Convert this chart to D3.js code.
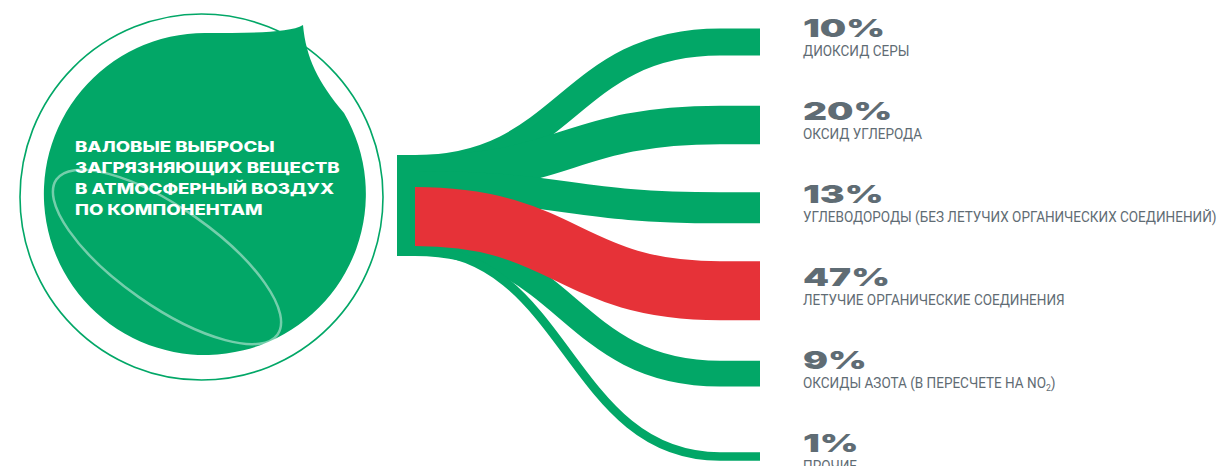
<!DOCTYPE html>
<html><head><meta charset="utf-8">
<script src="https://cdn.jsdelivr.net/npm/d3@7"></script>
<style>body{margin:0;background:#fff} svg{display:block}</style>
</head><body>
<svg id="chart" width="1222" height="466"></svg>
<script>
// ---- data ----
const categories = [
  "ДИОКСИД СЕРЫ",
  "ОКСИД УГЛЕРОДА",
  "УГЛЕВОДОРОДЫ (БЕЗ ЛЕТУЧИХ ОРГАНИЧЕСКИХ СОЕДИНЕНИЙ)",
  "ЛЕТУЧИЕ ОРГАНИЧЕСКИЕ СОЕДИНЕНИЯ",
  "ОКСИДЫ АЗОТА (В ПЕРЕСЧЕТЕ НА NO₂)",
  "ПРОЧИЕ"
];
const values = [10, 20, 13, 47, 9, 1];
const highlighted = ["ЛЕТУЧИЕ ОРГАНИЧЕСКИЕ СОЕДИНЕНИЯ"];
const titleLines = ["ВАЛОВЫЕ ВЫБРОСЫ", "ЗАГРЯЗНЯЮЩИХ ВЕЩЕСТВ", "В АТМОСФЕРНЫЙ ВОЗДУХ", "ПО КОМПОНЕНТАМ"];

// ---- styles ----
const GREEN = "#02a767", RED = "#e63238", GRAY = "#5f6c74";

const svg = d3.select("#chart");

// ---- left bubble ----
const g0 = svg.append("g");
g0.append("ellipse").attr("cx", 201.5).attr("cy", 197).attr("rx", 181.5).attr("ry", 183)
  .attr("fill", "none").attr("stroke", GREEN).attr("stroke-width", 1.6);
g0.append("path")
  .attr("d", "M303,25 C290,33 250,33 205,33 A161 161 0 1 0 344,113 C318,82 306,58 303,25 Z")
  .attr("fill", GREEN);
g0.append("ellipse").attr("cx", 0).attr("cy", 0).attr("rx", 135).attr("ry", 49)
  .attr("transform", "translate(167,257) rotate(35)")
  .attr("fill", "none").attr("stroke", "rgba(255,255,255,0.45)").attr("stroke-width", 2.5);

const title = g0.append("g").attr("transform", "translate(75,0)");
const tLines = title.selectAll("text").data(titleLines).join("text")
  .attr("y", (d, i) => 152 + i * 21)
  .attr("font-family", "Inter, 'DejaVu Sans', sans-serif")
  .attr("font-weight", 800).attr("font-size", 14.5)
  .attr("fill", "#fff").text(d => d);
const tMax = d3.max(tLines.nodes(), n => n.getComputedTextLength());
tLines.attr("transform", `scale(${265 / tMax},1)`);

// ---- flows ----
const x0 = 415, xc = 720, x1 = 760, barX = 397, barTop = 155, barBot = 256;
const W = d3.scaleSqrt().domain([0, d3.max(values)]).range([0, 59]);
const yEnd = d3.scalePoint().domain(categories).range([42, 456.5]);
const ySrc = d3.scaleLinear().domain([0, 100]).range([150, 250]);

let cum = 0;
const flows = categories.map((c, i) => {
  const v = values[i], w = W(v), mid = cum + v / 2;
  cum += v;
  const ys = Math.max(barTop + w / 2, Math.min(barBot - w / 2, ySrc(mid)));
  return { c, v, w, ys, yt: yEnd(c), hi: highlighted.includes(c) };
});

const link = d => {
  const xm = (x0 + xc) / 2, p = d3.path();
  p.moveTo(x0, d.ys);
  p.bezierCurveTo(xm, d.ys, xm, d.yt, xc, d.yt);
  p.lineTo(x1, d.yt);
  return p.toString();
};

svg.append("rect").attr("x", barX).attr("y", barTop).attr("width", x0 - barX)
  .attr("height", barBot - barTop).attr("fill", GREEN);

const ordered = flows.filter(d => !d.hi).concat(flows.filter(d => d.hi));
svg.append("g").selectAll("path").data(ordered).join("path")
  .attr("d", link).attr("fill", "none")
  .attr("stroke", d => d.hi ? RED : GREEN)
  .attr("stroke-width", d => d.w).attr("stroke-linecap", "butt");

// ---- labels ----
const lab = svg.append("g");
const pct = lab.selectAll("text.pct").data(flows).join("text").attr("class", "pct")
  .attr("font-family", "Inter, 'DejaVu Sans', sans-serif")
  .attr("font-weight", 900).attr("font-size", 25).attr("fill", GRAY)
  .text(d => d.v + "%");
const maxNode = pct.filter(d => d.v === d3.max(values)).node();
const sx = 87 / maxNode.getComputedTextLength();
pct.attr("transform", d => `translate(803,${d.yt - 5}) scale(${sx},1)`);

const sub = lab.selectAll("text.sub").data(flows).join("text").attr("class", "sub")
  .attr("font-family", "Roboto, 'Liberation Sans', sans-serif")
  .attr("font-size", 14).attr("fill", GRAY);
sub.each(function(d) {
  const t = d3.select(this);
  const parts = d.c.split("₂");
  t.append("tspan").text(parts[0]);
  if (parts.length > 1) {
    t.append("tspan").attr("font-size", 9).attr("dy", 3).text("2");
    t.append("tspan").attr("dy", -3).text(parts[1]);
  }
});
const subMax = d3.max(sub.nodes(), n => n.getComputedTextLength());
const sx2 = 414 / subMax;
sub.attr("transform", d => `translate(803,${d.yt + 14}) scale(${sx2},1)`);
</script>
</body></html>
